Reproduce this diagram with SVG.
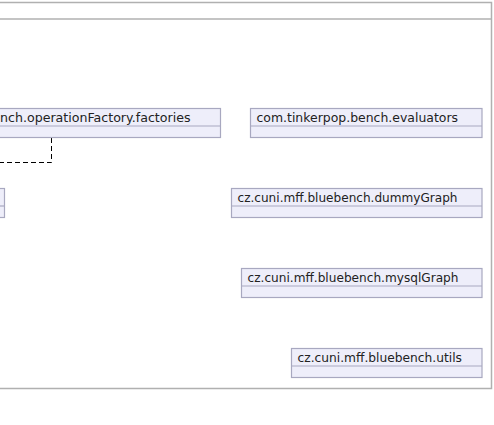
<svg xmlns="http://www.w3.org/2000/svg" width="494" height="425" viewBox="0 0 494 425">
<style>
.frame{fill:none;stroke:#b0b0b0;stroke-width:1.5}
.box{fill:#eeeefa;stroke:#a8a8c0;stroke-width:1.2}
.div{stroke:#a8a8c0;stroke-width:1.2}
.lbl{font-family:"DejaVu Sans",sans-serif;font-size:12.5px;fill:#222}
.dep{fill:none;stroke:#000;stroke-width:1;stroke-dasharray:5,3}
</style>
<rect width="494" height="425" fill="#fff"/>
<g id="frame">
<path class="frame" d="M-5 2.5 H491.5 V388.5 H-5"/>
<line class="frame" x1="-5" y1="19" x2="491.5" y2="19"/>
</g>
<g id="connectors">
<path class="dep" d="M51.5 138 V162.5 H-2"/>
</g>
<g id="factories">
<rect class="box" x="-10" y="108.5" width="230.5" height="29"/>
<line class="div" x1="-10" y1="126" x2="220.5" y2="126"/>
<text class="lbl" x="0" y="121.5" textLength="190.5" lengthAdjust="spacingAndGlyphs">nch.operationFactory.factories</text>
</g>
<g id="leftbox">
<rect class="box" x="-10" y="188.5" width="14.5" height="29"/>
<line class="div" x1="-10" y1="206" x2="4.5" y2="206"/>
</g>
<g id="evaluators">
<rect class="box" x="250.5" y="108.5" width="231.5" height="29"/>
<line class="div" x1="250.5" y1="126" x2="482" y2="126"/>
<text class="lbl" x="256.5" y="121.5" textLength="201.5" lengthAdjust="spacingAndGlyphs">com.tinkerpop.bench.evaluators</text>
</g>
<g id="dummyGraph">
<rect class="box" x="231.5" y="188.5" width="250.5" height="29"/>
<line class="div" x1="231.5" y1="206" x2="482" y2="206"/>
<text class="lbl" x="237.5" y="201.5" textLength="220" lengthAdjust="spacingAndGlyphs">cz.cuni.mff.bluebench.dummyGraph</text>
</g>
<g id="mysqlGraph">
<rect class="box" x="241.5" y="268.5" width="240.5" height="29"/>
<line class="div" x1="241.5" y1="286" x2="482" y2="286"/>
<text class="lbl" x="247.5" y="281.5" textLength="211" lengthAdjust="spacingAndGlyphs">cz.cuni.mff.bluebench.mysqlGraph</text>
</g>
<g id="utils">
<rect class="box" x="291.5" y="348.5" width="190.5" height="29"/>
<line class="div" x1="291.5" y1="366" x2="482" y2="366"/>
<text class="lbl" x="297.5" y="361.5" textLength="164.5" lengthAdjust="spacingAndGlyphs">cz.cuni.mff.bluebench.utils</text>
</g>
</svg>
